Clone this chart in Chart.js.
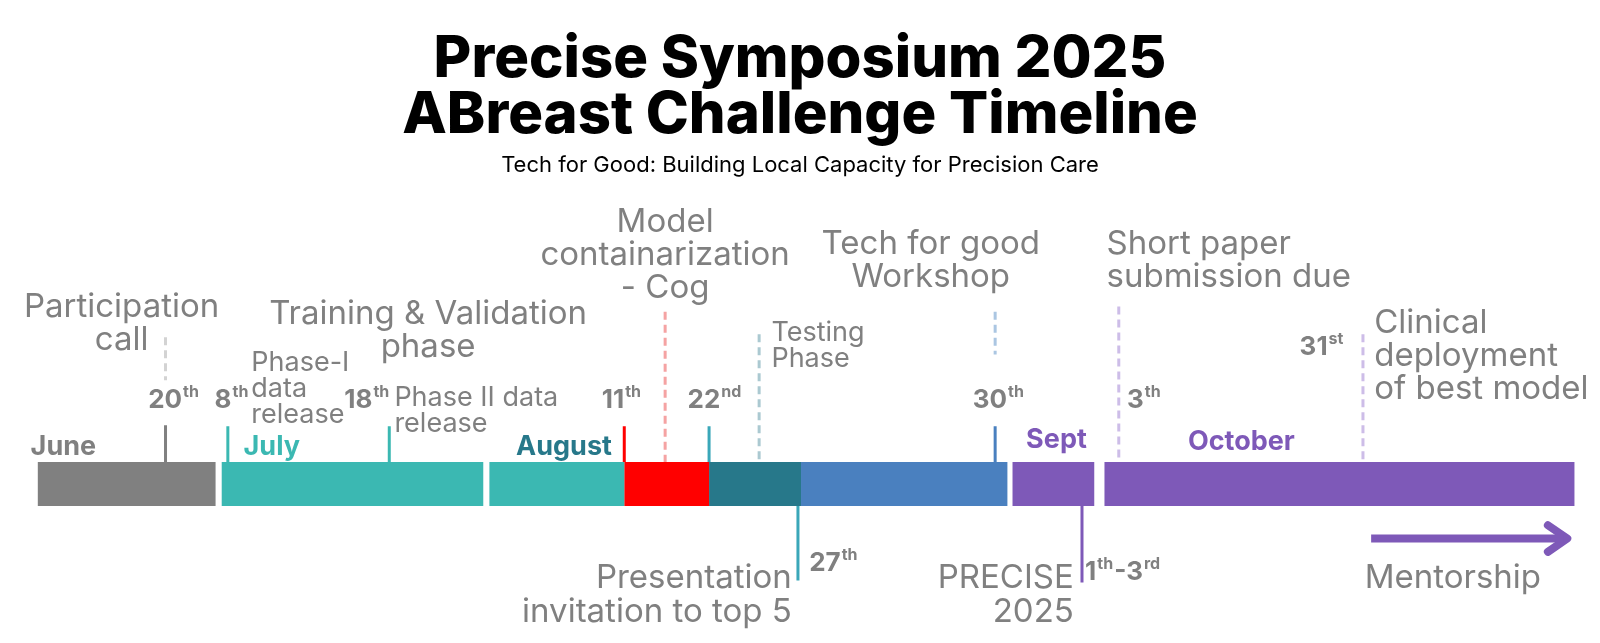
<!DOCTYPE html>
<html>
<head>
<meta charset="utf-8">
<script src="https://cdn.jsdelivr.net/npm/chart.js@4.4.1/dist/chart.umd.min.js"></script>
<style>
html, body { margin: 0; padding: 0; background: #fff; }
#wrap { width: 1600px; height: 643px; }
</style>
</head>
<body>
<div id="wrap"><canvas id="myChart"></canvas></div>
<script>
// positions are in timeline units
const barY = 473.5;

// phases along the bar
const segStart = [37, 217, 479, 611, 694, 784, 991, 1081];
const segEnd   = [211, 473, 611, 694, 784, 986, 1071, 1541];
const segColors = ['#808080', '#3bb8b2', '#3bb8b2', '#ff0000', '#27788a', '#4a80bf', '#7e59b8', '#7e59b8'];

// month names
const months = ['June', 'July', 'August', 'Sept', 'October'];
const monthX = [62, 266, 552, 1034, 1215];
const monthY = [437, 437, 437, 430, 432];
const monthColors = ['#808080', '#3bb8b2', '#27788a', '#7e59b8', '#7e59b8'];

// date labels
const dates = ['20th', '8th', '18th', '11th', '22nd', '30th', '3th', '31st', '27th', '1th-3rd'];
const dateX = [145, 210, 337, 589, 673, 952, 1103, 1272, 792, 1062];
const dateY = [392, 392, 392, 392, 392, 392, 392, 340, 551, 560];

// tick marks (solid)
const tickX      = [162, 223, 381, 611, 694, 974, 781, 1059];
const tickTop    = [416, 417, 417, 417, 417, 417, 452, 495];
const tickBottom = [452, 452, 452, 452, 452, 452, 568, 570];
const tickColors = ['#808080', '#3bb8b2', '#3bb8b2', '#ff0000', '#3aa7b9', '#4a80bf', '#3aa7b9', '#7e59b8'];

// guide lines (dashed)
const guideX      = [162, 651, 743, 974, 1095, 1334];
const guideTop    = [330, 305, 327, 305, 300, 327];
const guideBottom = [372, 452, 452, 347, 452, 452];
const guideColors = ['#d3d3d3', '#f5a3a3', '#abc9d1', '#abc6e2', '#cdbde8', '#cdbde8'];

// event notes
const notes = [
  ['Participation', 'call'],
  ['Training & Validation', 'phase'],
  ['Model', 'containarization', '- Cog'],
  ['Tech for good', 'Workshop'],
  ['Short paper', 'submission due'],
  ['Clinical', 'deployment', 'of best model'],
  ['Presentation', 'invitation to top 5'],
  ['PRECISE', '2025'],
  ['Mentorship'],
  ['Phase-I', 'data', 'release'],
  ['Phase II data', 'release'],
  ['Testing', 'Phase']
];
const noteX = [119, 419, 651, 911, 1083, 1345, 775, 1051, 1422, 246, 386, 755];
const noteY = [300, 307, 217, 239, 239, 316, 566, 566, 566, 355, 389, 326];
const noteAlign = ['center', 'center', 'center', 'center', 'left', 'left', 'right', 'right', 'center', 'left', 'left', 'left'];
const noteSmall = [false, false, false, false, false, false, false, false, false, true, true, true];

// mentorship arrow
const arrowShaftX = [1342, 1530];
const arrowHeadX = [1515, 1534, 1515];
const arrowHeadY = [514, 527, 540];
const arrowY = 527;

const gray = '#808080';
const purple = '#7e59b8';

const datasets = [];
for (let i = 0; i < segStart.length; i++) {
    datasets.push({
        data: [{x: segStart[i], y: barY}, {x: segEnd[i], y: barY}],
        borderColor: segColors[i],
        borderWidth: 44,
        borderCapStyle: 'butt'
    });
}
for (let i = 0; i < tickX.length; i++) {
    datasets.push({
        data: [{x: tickX[i], y: tickTop[i]}, {x: tickX[i], y: tickBottom[i]}],
        borderColor: tickColors[i],
        borderWidth: 3,
        borderCapStyle: 'butt'
    });
}
for (let i = 0; i < guideX.length; i++) {
    datasets.push({
        data: [{x: guideX[i], y: guideTop[i]}, {x: guideX[i], y: guideBottom[i]}],
        borderColor: guideColors[i],
        borderWidth: 3,
        borderDash: [8, 5],
        borderCapStyle: 'butt'
    });
}
datasets.push({
    data: [{x: arrowShaftX[0], y: arrowY}, {x: arrowShaftX[1], y: arrowY}],
    borderColor: purple,
    borderWidth: 8,
    borderCapStyle: 'butt'
});
datasets.push({
    data: arrowHeadX.map((v, i) => ({x: v, y: arrowHeadY[i]})),
    borderColor: purple,
    borderWidth: 8,
    borderCapStyle: 'round',
    borderJoinStyle: 'round'
});

// draws month names, dates (with superscripts) and notes through the scales
const notesPlugin = {
    id: 'notes',
    afterDatasetsDraw(chart) {
        const ctx = chart.ctx;
        const x = chart.scales.x;
        const y = chart.scales.y;
        ctx.save();
        ctx.textBaseline = 'middle';

        ctx.textAlign = 'center';
        ctx.font = 'bold 27px Inter';
        months.forEach((m, i) => {
            ctx.fillStyle = monthColors[i];
            ctx.fillText(m, x.getPixelForValue(monthX[i]), y.getPixelForValue(monthY[i]));
        });

        ctx.textAlign = 'left';
        ctx.fillStyle = gray;
        dates.forEach((d, i) => {
            let px = x.getPixelForValue(dateX[i]);
            const py = y.getPixelForValue(dateY[i]);
            const parts = d.split(/([a-z]+)/);
            parts.forEach((p, j) => {
                if (!p) return;
                if (j % 2 === 1) {
                    ctx.font = 'bold 16px Inter';
                    ctx.fillText(p, px + 1, py - 8);
                    px += ctx.measureText(p).width + 2;
                } else {
                    ctx.font = 'bold 26px Inter';
                    ctx.fillText(p, px, py);
                    px += ctx.measureText(p).width;
                }
            });
        });

        notes.forEach((lines, i) => {
            const small = noteSmall[i];
            ctx.font = (small ? 27 : 33) + 'px Inter';
            ctx.textAlign = noteAlign[i];
            const step = small ? 25.5 : 32.5;
            lines.forEach((t, j) => {
                ctx.fillText(t, x.getPixelForValue(noteX[i]), y.getPixelForValue(noteY[i] + j * step));
            });
        });
        ctx.restore();
    }
};

const ctx = document.getElementById('myChart').getContext('2d');
const myChart = new Chart(ctx, {
    type: 'scatter',
    data: {datasets: datasets},
    options: {
        responsive: true,
        maintainAspectRatio: false,
        animation: false,
        showLine: true,
        clip: false,
        layout: {padding: 0},
        elements: {
            point: {radius: 0, hoverRadius: 0},
            line: {tension: 0, fill: false}
        },
        scales: {
            x: {type: 'linear', display: false, min: 0, max: 1566},
            y: {type: 'linear', display: false, reverse: true, min: 174.95, max: 629.2}
        },
        plugins: {
            legend: {display: false},
            tooltip: {enabled: false},
            title: {
                display: true,
                text: ['Precise Symposium 2025', 'ABreast Challenge Timeline'],
                color: '#000',
                font: {family: 'Inter', size: 58, weight: 800, lineHeight: 0.969},
                padding: {top: 31, bottom: 9}
            },
            subtitle: {
                display: true,
                text: 'Tech for Good: Building Local Capacity for Precision Care',
                color: '#000',
                font: {family: 'Inter', size: 22, lineHeight: 1.2},
                padding: {top: 0, bottom: 0}
            }
        }
    },
    plugins: [notesPlugin]
});
</script>
</body>
</html>
